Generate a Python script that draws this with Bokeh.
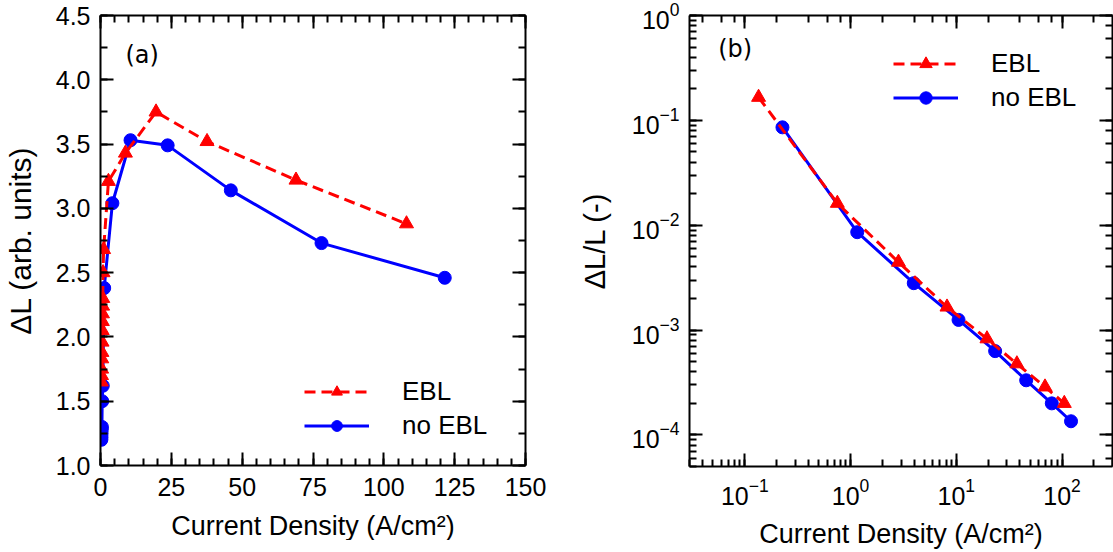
from bokeh.plotting import figure
from bokeh.models import (LinearAxis, LogAxis, SingleIntervalTicker, Range1d,
                          Legend, LegendItem, Label, PrintfTickFormatter,
                          CustomJSTickFormatter)
from bokeh.layouts import row
from bokeh.embed import file_html
from bokeh.resources import INLINE

# ---- panel (a): linear current density vs delta L ----
a_ebl_j = [0.3, 0.35, 0.4, 0.45, 0.5, 0.55, 0.6, 0.65, 0.7, 0.75, 0.8, 0.9, 1.1,
           2.8, 8.8, 19.6, 37.6, 69, 108]
a_ebl_dl = [1.65, 1.70, 1.75, 1.83, 1.88, 1.96, 2.05, 2.12, 2.18, 2.24, 2.30, 2.50, 2.68,
            3.21, 3.43, 3.75, 3.52, 3.22, 2.88]
a_noebl_j = [0.3, 0.35, 0.4, 0.45, 0.5, 0.6, 0.8, 1.3, 4.2, 10.6, 23.7, 46, 78, 121.5]
a_noebl_dl = [1.20, 1.22, 1.25, 1.28, 1.30, 1.50, 1.62, 2.38, 3.04, 3.53, 3.49, 3.14, 2.73, 2.46]

# ---- panel (b): log-log current density vs delta L / L ----
b_ebl_j = [0.135, 0.75, 2.84, 8.17, 19.5, 37.4, 69, 105]
b_ebl_r = [0.166, 0.0162, 0.00444, 0.00166, 0.000826, 0.000477, 0.000287, 0.0002]
b_noebl_j = [0.227, 1.157, 3.96, 10.5, 23.3, 45.8, 80, 121.6]
b_noebl_r = [0.0858, 0.00858, 0.0028, 0.00125, 0.00063, 0.000332, 0.0002, 0.000135]

series_names = ["EBL", "no EBL"]
x_title = "Current Density (A/cm²)"
y_title_a = "ΔL (arb. units)"
y_title_b = "ΔL/L (-)"

FONT = "Liberation Sans"
RED = "#ff0000"
BLUE = "#0000ff"


def style_axis(ax, hidden=False):
    ax.axis_line_width = 2
    ax.axis_line_color = "black"
    ax.major_tick_in = 13
    ax.major_tick_out = 0
    ax.minor_tick_in = 7
    ax.minor_tick_out = 0
    ax.major_tick_line_width = 2
    ax.minor_tick_line_width = 2
    ax.major_tick_line_color = "black"
    ax.minor_tick_line_color = "black"
    ax.major_label_text_font = FONT
    ax.major_label_text_font_size = "25px"
    ax.major_label_text_color = "black"
    ax.axis_label_text_font = FONT
    ax.axis_label_text_font_size = "27px"
    ax.axis_label_text_font_style = "normal"
    ax.axis_label_text_color = "black"
    if hidden:
        ax.formatter = CustomJSTickFormatter(code="return ''")
        ax.major_label_standoff = 0


def base_fig(**kw):
    p = figure(output_backend="svg", toolbar_location=None, **kw)
    p.xgrid.visible = False
    p.ygrid.visible = False
    p.outline_line_color = None
    p.background_fill_color = "white"
    p.border_fill_color = "white"
    return p


# ================= panel (a) =================
p1 = base_fig(frame_width=425, frame_height=450,
              x_range=Range1d(0, 150), y_range=Range1d(1.0, 4.5),
              min_border_left=93, min_border_right=50,
              min_border_top=12, min_border_bottom=70)
p1.xaxis.ticker = SingleIntervalTicker(interval=25, num_minor_ticks=5)
p1.yaxis.ticker = SingleIntervalTicker(interval=0.5, num_minor_ticks=2)
p1.yaxis.formatter = PrintfTickFormatter(format="%.1f")
p1.xaxis.axis_label = x_title
p1.yaxis.axis_label = y_title_a
for ax in p1.xaxis + p1.yaxis:
    style_axis(ax)
p1.yaxis.axis_label_text_font_size = "30px"
p1.xaxis.major_label_standoff = 12
p1.xaxis.axis_label_standoff = 12
p1.yaxis.major_label_standoff = 10
p1.yaxis.axis_label_standoff = 16
top1 = LinearAxis(ticker=SingleIntervalTicker(interval=25, num_minor_ticks=5))
right1 = LinearAxis(ticker=SingleIntervalTicker(interval=0.5, num_minor_ticks=2))
style_axis(top1, hidden=True)
style_axis(right1, hidden=True)
p1.add_layout(top1, "above")
p1.add_layout(right1, "right")

bl1 = p1.line(a_noebl_j, a_noebl_dl, line_color=BLUE, line_width=3)
bs1 = p1.scatter(a_noebl_j, a_noebl_dl, marker="circle", size=13,
                 fill_color=BLUE, line_color=BLUE)
rl1 = p1.line(a_ebl_j, a_ebl_dl, line_color=RED, line_width=3, line_dash="11 6")
rs1 = p1.scatter(a_ebl_j, a_ebl_dl, marker="triangle", size=14,
                 fill_color=RED, line_color=RED)

leg1 = Legend(items=[LegendItem(label=series_names[0], renderers=[rl1, rs1]),
                     LegendItem(label=series_names[1], renderers=[bl1, bs1])],
              location=(204, 24), glyph_width=65, glyph_height=27, label_height=27,
              label_standoff=33, spacing=3, padding=0, margin=0,
              border_line_color=None, background_fill_alpha=0,
              label_text_font=FONT, label_text_font_size="26px",
              label_text_color="black")
p1.add_layout(leg1)
p1.add_layout(Label(x=8.8, y=4.196, text="(a)", text_baseline="middle",
                    text_font="DejaVu Sans", text_font_size="24px",
                    text_color="black"))

# ================= panel (b) =================
p2 = base_fig(frame_width=423, frame_height=451,
              x_axis_type="log", y_axis_type="log",
              x_range=Range1d(0.03, 300), y_range=Range1d(5e-5, 1),
              min_border_left=112, min_border_right=2,
              min_border_top=15, min_border_bottom=66)
p2.xaxis.axis_label = x_title
p2.yaxis.axis_label = y_title_b
for ax in p2.xaxis + p2.yaxis:
    style_axis(ax)
p2.yaxis.axis_label_text_font_size = "29px"
p2.xaxis.major_label_standoff = 11
p2.xaxis.axis_label_standoff = 11
p2.yaxis.major_label_standoff = 10
p2.yaxis.axis_label_standoff = 18
top2 = LogAxis()
right2 = LogAxis()
style_axis(top2, hidden=True)
style_axis(right2, hidden=True)
p2.add_layout(top2, "above")
p2.add_layout(right2, "right")

bl2 = p2.line(b_noebl_j, b_noebl_r, line_color=BLUE, line_width=3)
bs2 = p2.scatter(b_noebl_j, b_noebl_r, marker="circle", size=13,
                 fill_color=BLUE, line_color=BLUE)
rl2 = p2.line(b_ebl_j, b_ebl_r, line_color=RED, line_width=3, line_dash="11 6")
rs2 = p2.scatter(b_ebl_j, b_ebl_r, marker="triangle", size=14,
                 fill_color=RED, line_color=RED)

leg2 = Legend(items=[LegendItem(label=series_names[0], renderers=[rl2, rs2]),
                     LegendItem(label=series_names[1], renderers=[bl2, bs2])],
              location=(204, 353), glyph_width=65, glyph_height=31, label_height=31,
              label_standoff=33, spacing=3, padding=0, margin=0,
              border_line_color=None, background_fill_alpha=0,
              label_text_font=FONT, label_text_font_size="26px",
              label_text_color="black")
p2.add_layout(leg2)
p2.add_layout(Label(x=0.056, y=0.474, text="(b)", text_baseline="middle",
                    text_font="DejaVu Sans", text_font_size="24px",
                    text_color="black"))

layout = row(p1, p2)
open("out.html", "w").write(file_html(layout, INLINE))
